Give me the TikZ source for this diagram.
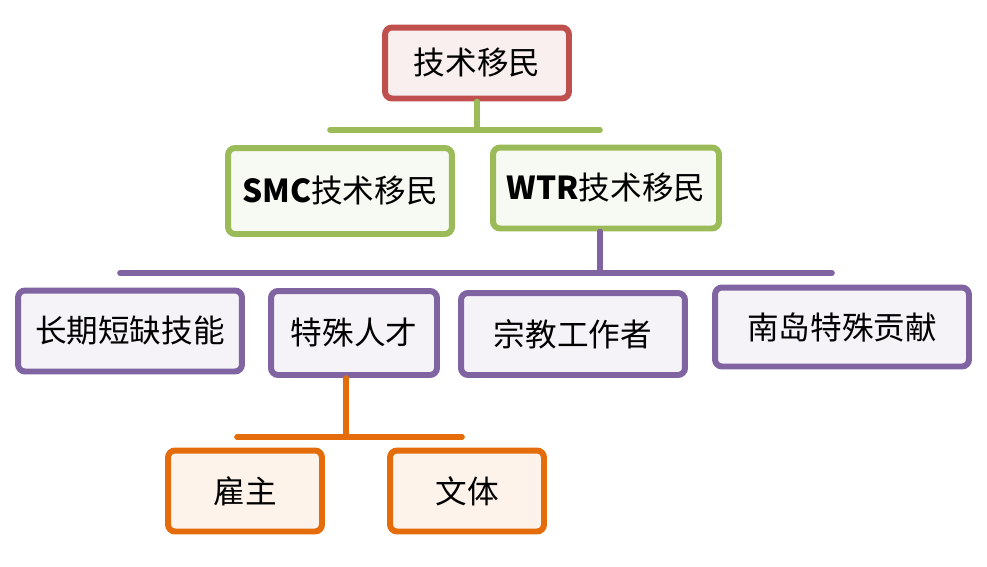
\documentclass[tikz,border=0pt]{standalone}
\usepackage{fontspec}
\newfontfamily\cjk{Noto Sans CJK SC}
\usetikzlibrary{calc}
\definecolor{rootred}{RGB}{192,80,77}
\definecolor{lvgreen}{RGB}{155,187,89}
\definecolor{lvpurple}{RGB}{128,100,162}
\definecolor{lvorange}{RGB}{228,108,10}
\tikzset{
  box/.style={draw,line width=3.4pt,rounded corners=4pt,inner sep=0pt,
    font=\cjk\fontsize{18}{20}\selectfont},
  rootbox/.style={box,draw=rootred,fill=rootred!9},
  greenbox/.style={box,draw=lvgreen,fill=lvgreen!8},
  purplebox/.style={box,draw=lvpurple,fill=lvpurple!8},
  orangebox/.style={box,draw=lvorange,fill=lvorange!8},
  bus/.style={line width=3.2pt,line cap=round}
}
\begin{document}
\begin{tikzpicture}[x=0.02cm,y=-0.02cm]
  \useasboundingbox (0,0) rectangle (987,566);
  \node[rootbox,minimum width=3.68cm,minimum height=1.42cm] (root) at (477,63) {技术移民};
  \node[greenbox,minimum width=4.48cm,minimum height=1.72cm] (smc) at (340,191) {{\bfseries SMC}技术移民};
  \node[greenbox,minimum width=4.52cm,minimum height=1.62cm] (wtr) at (606,188) {{\bfseries WTR}技术移民};
  \node[purplebox,minimum width=4.48cm,minimum height=1.62cm] (shortage) at (130,331) {长期短缺技能};
  \node[purplebox,minimum width=3.32cm,minimum height=1.68cm] (talent) at (354,333) {特殊人才};
  \node[purplebox,minimum width=4.48cm,minimum height=1.64cm] (religion) at (573,334) {宗教工作者};
  \node[purplebox,minimum width=5.08cm,minimum height=1.58cm] (southisland) at (842,327) {南岛特殊贡献};
  \node[orangebox,minimum width=3.08cm,minimum height=1.62cm] (employer) at (245,491) {雇主};
  \node[orangebox,minimum width=3.08cm,minimum height=1.62cm] (sports) at (467,491) {文体};
  \coordinate (gL) at (330,130);
  \coordinate (gR) at (600,130);
  \coordinate (pL) at (120,273);
  \coordinate (pR) at (832,273);
  \coordinate (oL) at (237,437);
  \coordinate (oR) at (462,437);
  \draw[bus,lvgreen] (root.south) -- (root.south |- gL);
  \draw[bus,lvgreen] (gL) -- (gR);
  \draw[bus,lvpurple] ($(wtr.south)+(-6,0)$) -- ($(wtr.south |- pL)+(-6,0)$);
  \draw[bus,lvpurple] (pL) -- (pR);
  \draw[bus,lvorange] ($(talent.south)+(-8,0)$) -- ($(talent.south |- oL)+(-8,0)$);
  \draw[bus,lvorange] (oL) -- (oR);
\end{tikzpicture}
\end{document}
